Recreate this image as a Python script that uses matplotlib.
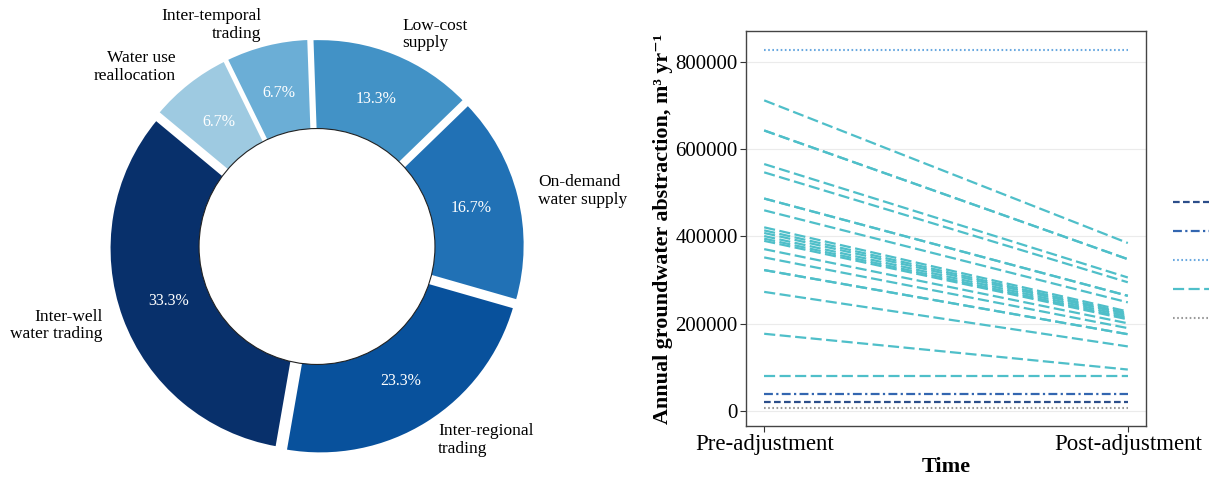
import numpy as np
import matplotlib.pyplot as plt
from matplotlib.patches import Circle
from matplotlib.lines import Line2D

plt.rcParams['font.family'] = ['Liberation Serif', 'DejaVu Serif']

# Share of adjustment strategies, clockwise from the top
strategies = ['Low-cost\nsupply', 'On-demand\nwater supply', 'Inter-regional\ntrading',
              'Inter-well\nwater trading', 'Water use\nreallocation', 'Inter-temporal\ntrading']
shares = [13.3, 16.7, 23.3, 33.3, 6.7, 6.7]
slice_colors = ['#4292c6', '#2171b5', '#08519c', '#08306b', '#9ecae1', '#6baed6']

# Annual abstraction per well (m3/yr), before and after adjustment
time_labels = ['Pre-adjustment', 'Post-adjustment']
traded_pre = [712000, 643000, 643000, 566000, 547000, 487000, 487000, 460000,
              421000, 414000, 408000, 401000, 395000, 390000, 371000, 352000,
              323000, 323000, 273000, 177000, 80000]
traded_post = [385000, 348000, 348000, 306000, 295000, 264000, 264000, 249000,
               228000, 224000, 221000, 217000, 213000, 210000, 201000, 190000,
               176000, 176000, 148000, 95000, 80000]
dashed_pre, dashed_post = [20000], [20000]
dashdot_pre, dashdot_post = [40000], [40000]
dotted_pre, dotted_post = [828000], [828000]
grey_pre, grey_post = [7000], [7000]

fig = plt.figure(figsize=(12.09, 4.79), dpi=100)

# ---- donut ----
scale = 202.0  # px per unit radius
cx, cy = 317.0, 246.5
ax = fig.add_axes([0, 0, 640 / 1209, 1])
ax.pie(shares, colors=slice_colors, startangle=92, counterclock=False,
       explode=[0.03] * len(shares), labels=strategies, labeldistance=1.1,
       autopct='%.1f%%', pctdistance=0.755, radius=1,
       wedgeprops=dict(edgecolor='white', linewidth=1.8),
       textprops=dict(fontsize=12.5, linespacing=1.12))
for t in ax.texts:
    if t.get_text().endswith('%'):
        t.set_color('white')
        t.set_fontsize(11.5)
ax.add_patch(Circle((0, 0), 0.584, facecolor='white', edgecolor='#222222', linewidth=0.8, zorder=5))
ax.set_xlim(-cx / scale, (640 - cx) / scale)
ax.set_ylim((cy - 479) / scale, cy / scale)
ax.set_aspect('auto')
ax.axis('off')

# ---- abstraction lines ----
ax2 = fig.add_axes([746 / 1209, 53 / 479, 400 / 1209, 395 / 479])
x = [0, 1]
for p, q in zip(traded_pre, traded_post):
    ax2.plot(x, [p, q], color='#4fbfc9', lw=1.6, dashes=(5, 2), zorder=3)
for p, q in zip(dashed_pre, dashed_post):
    ax2.plot(x, [p, q], color='#2c4e8a', lw=1.6, dashes=(3, 1.5), zorder=3)
for p, q in zip(dashdot_pre, dashdot_post):
    ax2.plot(x, [p, q], color='#3366b0', lw=1.6, dashes=(4, 1.5, 1, 1.5), zorder=3)
for p, q in zip(dotted_pre, dotted_post):
    ax2.plot(x, [p, q], color='#6aa9e0', lw=1.5, dashes=(0.8, 1.2), zorder=3)
for p, q in zip(grey_pre, grey_post):
    ax2.plot(x, [p, q], color='#9a9a9a', lw=1.5, dashes=(0.8, 1.2), zorder=3)

ax2.set_xlim(-0.05, 1.05)
ax2.set_ylim(-34400, 871000)
ax2.set_xticks(x)
ax2.set_xticklabels(time_labels, fontsize=16.5)
ax2.set_yticks([0, 200000, 400000, 600000, 800000])
ax2.set_yticklabels(['0', '200000', '400000', '600000', '800000'], fontsize=15)
ax2.grid(axis='y', color='#ebebeb', lw=0.8, zorder=0)
ax2.tick_params(length=4, color='#333333', width=0.8, pad=2)
for s in ax2.spines.values():
    s.set_color('#444444')
    s.set_linewidth(1.0)
ax2.set_xlabel('Time', fontsize=16, fontweight='bold', labelpad=1)
ax2.set_ylabel('Annual groundwater abstraction, m³ yr⁻¹', fontsize=15.8, fontweight='bold', labelpad=2)

# legend keys (labels sit past the right edge)
handles = [
    Line2D([], [], color='#2c4e8a', lw=1.6, dashes=(3, 1.5)),
    Line2D([], [], color='#3366b0', lw=1.6, dashes=(4, 1.5, 1, 1.5)),
    Line2D([], [], color='#6aa9e0', lw=1.5, dashes=(0.8, 1.2)),
    Line2D([], [], color='#4fbfc9', lw=1.6, dashes=(5, 2)),
    Line2D([], [], color='#9a9a9a', lw=1.5, dashes=(0.8, 1.2)),
]
fig.legend(handles, [''] * 5, loc='upper left', bbox_to_anchor=(1154 / 1209, 1 - 176 / 479),
           frameon=False, fontsize=15, handlelength=3.5, labelspacing=0.45)

fig.savefig('out.png', dpi=100)
